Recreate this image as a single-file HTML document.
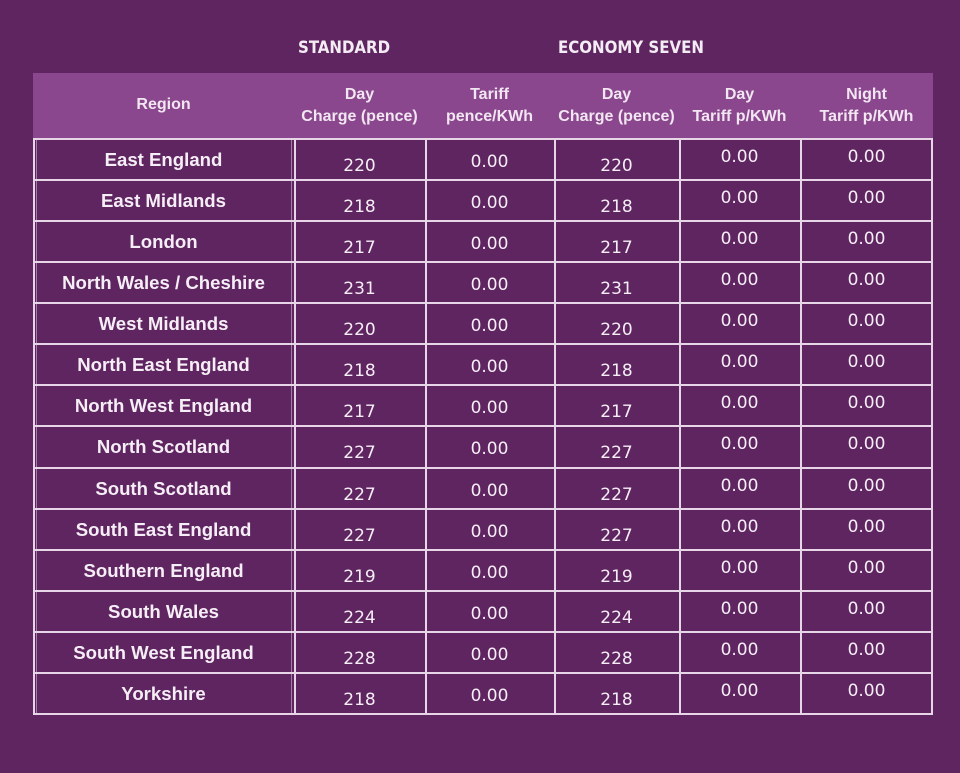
<!DOCTYPE html>
<html><head><style>
body{margin:0;width:960px;height:773px;background:#5f2560;position:relative;overflow:hidden;font-family:"Liberation Sans",sans-serif;color:#f6eef6}
.t{position:absolute;text-align:center;white-space:nowrap}
.h{font-weight:bold;font-size:16px;line-height:22px;color:#f2e6f2}
.sec{font-family:"DejaVu Sans Condensed","DejaVu Sans",sans-serif;font-size:16.7px;font-weight:bold;top:37px;color:#f4ecf4}
.r{font-weight:bold;font-size:18.6px}
.n{font-family:"DejaVu Sans",sans-serif;font-size:17px}
.vl{position:absolute;width:2px;background:#e6d6e8;top:138px;height:576px}
.hl{position:absolute;height:2px;background:#e6d6e8;left:33px;width:900px}
</style></head><body>
<div class="t sec" style="left:298px">STANDARD</div>
<div class="t sec" style="left:558px">ECONOMY SEVEN</div>
<div style="position:absolute;left:33px;top:73px;width:900px;height:65px;background:#8a478d"></div>
<div class="t h" style="left:33px;width:261px;top:94px">Region</div>
<div class="t h" style="left:294px;width:131px;top:84px">Day<br>Charge (pence)</div>
<div class="t h" style="left:425px;width:129px;top:84px">Tariff<br>pence/KWh</div>
<div class="t h" style="left:554px;width:125px;top:84px">Day<br>Charge (pence)</div>
<div class="t h" style="left:679px;width:121px;top:84px">Day<br>Tariff p/KWh</div>
<div class="t h" style="left:800px;width:133px;top:84px">Night<br>Tariff p/KWh</div>
<div id="g"></div>
<script>
var rows=[["East England",220],["East Midlands",218],["London",217],["North Wales / Cheshire",231],["West Midlands",220],["North East England",218],["North West England",217],["North Scotland",227],["South Scotland",227],["South East England",227],["Southern England",219],["South Wales",224],["South West England",228],["Yorkshire",218]];
var h="";var xs=[33,294,425,554,679,800,931];
xs.forEach(function(x){h+='<div class="vl" style="left:'+x+'px"></div>';});
h+='<div class="vl" style="left:36px;width:1px;opacity:.5"></div><div class="vl" style="left:291px;width:1px;opacity:.5"></div>';
for(var i=0;i<=14;i++){var y=138+i*41.07;h+='<div class="hl" style="top:'+Math.round(y)+'px"></div>';}
rows.forEach(function(r,i){var y=138+i*41.07;
h+='<div class="t r" style="left:33px;width:261px;top:'+Math.round(y+11)+'px">'+r[0]+'</div>';
h+='<div class="t n" style="left:294px;width:131px;top:'+Math.round(y+18)+'px">'+r[1]+'</div>';
h+='<div class="t n" style="left:425px;width:129px;top:'+Math.round(y+14)+'px">0.00</div>';
h+='<div class="t n" style="left:554px;width:125px;top:'+Math.round(y+18)+'px">'+r[1]+'</div>';
h+='<div class="t n" style="left:679px;width:121px;top:'+Math.round(y+9)+'px">0.00</div>';
h+='<div class="t n" style="left:800px;width:133px;top:'+Math.round(y+9)+'px">0.00</div>';});
document.getElementById("g").innerHTML=h;
</script>
</body></html>
